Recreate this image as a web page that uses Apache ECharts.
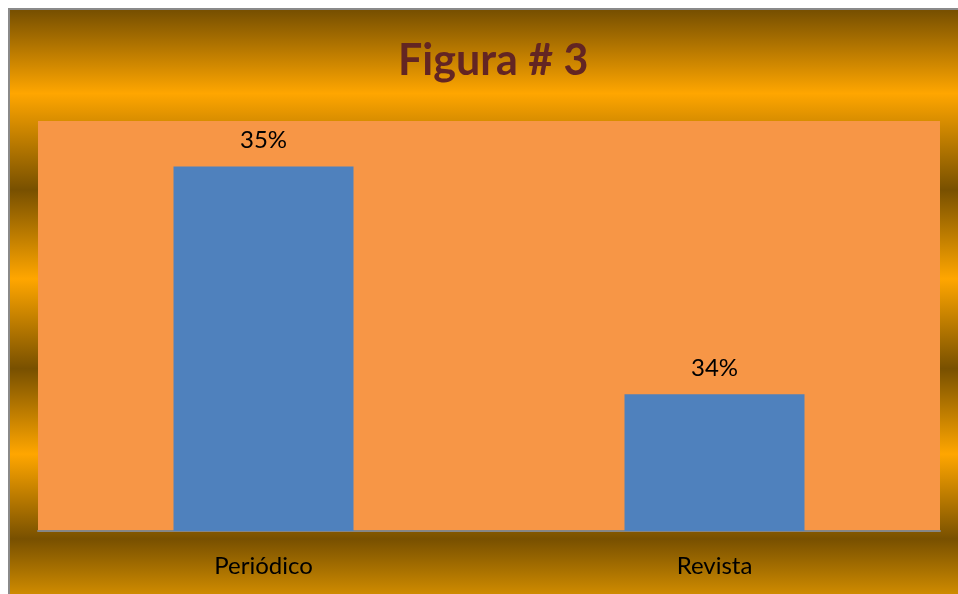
<!DOCTYPE html>
<html>
<head>
<meta charset="utf-8">
<script src="https://cdn.jsdelivr.net/npm/echarts@6/dist/echarts.min.js"></script>
<style>
  html, body { margin: 0; padding: 0; background: #fff; }
  #chart { width: 958px; height: 594px; }
</style>
</head>
<body>
<div id="chart"></div>
<script>
// datos de la figura
const categorias = ['Periódico', 'Revista'];
const valores = [35, 34];
const tituloTexto = 'Figura # 3';

const chartDom = document.getElementById('chart');
let myChart = echarts.init(chartDom);

// fondo dorado en franjas
const oscuro = '#785000';
const claro = '#FFA600';
const fondo = new echarts.graphic.LinearGradient(0, 0, 0, 1, [
  { offset: 0, color: oscuro },
  { offset: 0.005, color: oscuro },
  { offset: 0.142, color: claro },
  { offset: 0.302, color: oscuro },
  { offset: 0.45, color: claro },
  { offset: 0.599, color: oscuro },
  { offset: 0.741, color: claro },
  { offset: 0.882, color: oscuro },
  { offset: 1, color: '#E89C00' }
]);

let option = {
  animation: false,
  backgroundColor: '#fff',
  graphic: [{
    type: 'rect',
    z: -10,
    shape: { x: 9, y: 9, width: 960, height: 600 },
    style: { fill: fondo, stroke: '#8a8a8a', lineWidth: 2 }
  }],
  title: {
    text: tituloTexto,
    left: 393,
    top: 35,
    textStyle: {
      color: '#632523',
      fontSize: 43,
      fontWeight: 'bold',
      fontFamily: 'Lato'
    }
  },
  grid: {
    left: 38,
    right: 18,
    top: 121,
    bottom: 63,
    show: true,
    backgroundColor: '#F79646',
    borderWidth: 0
  },
  xAxis: {
    type: 'category',
    data: categorias,
    axisTick: { show: false },
    axisLine: { lineStyle: { color: '#868686', width: 2 } },
    axisLabel: {
      color: '#000',
      fontSize: 24,
      fontFamily: 'Lato',
      margin: 23
    }
  },
  yAxis: {
    type: 'value',
    min: 33.4,
    max: 35.2,
    show: false,
    splitLine: { show: false }
  },
  series: [{
    type: 'bar',
    data: valores,
    barWidth: 180,
    itemStyle: { color: '#4F81BD' },
    label: {
      show: true,
      position: 'top',
      distance: 14,
      formatter: '{c}%',
      color: '#000',
      fontSize: 24,
      fontFamily: 'Lato'
    }
  }]
};
option && myChart.setOption(option);
</script>
</body>
</html>
